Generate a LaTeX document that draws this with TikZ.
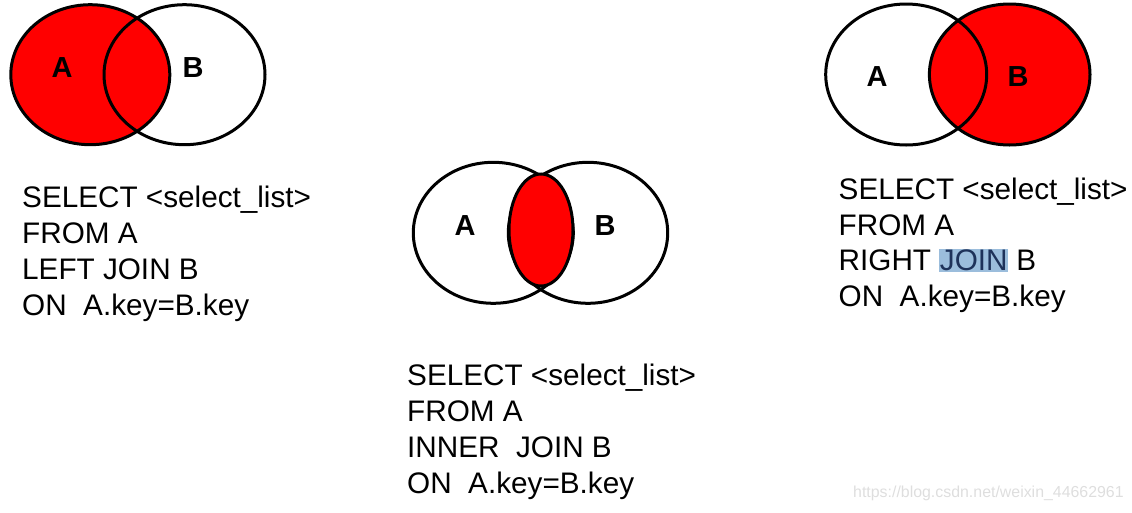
\documentclass[tikz,border=0pt]{standalone}
\usepackage{fontspec}
\setmainfont{Liberation Sans}
\definecolor{hl}{RGB}{155,189,220}
\definecolor{hltext}{RGB}{30,50,90}
\definecolor{wm}{RGB}{222,222,222}
\begin{document}
\begin{tikzpicture}[x=1pt,y=-1pt,
  venn/.style={line width=3pt, draw=black},
  code/.style={anchor=base west, inner sep=0pt, font=\fontsize{29.7}{36}\selectfont},
  lab/.style={inner sep=0pt, font=\fontsize{29}{30}\selectfont\bfseries}]
\useasboundingbox (0,0) rectangle (1132,512);
% ---- left: LEFT JOIN
\fill[red] (90.3,74.7) ellipse [x radius=79.5pt, y radius=70pt];
\draw[venn] (90.3,74.7) ellipse [x radius=79.5pt, y radius=70pt];
\draw[venn] (184.5,74.7) ellipse [x radius=80.5pt, y radius=70pt];
\node[lab] (la) at (62,67.5) {A};
\node[lab] (lb) at (193,67.5) {B};
\node[code] (l1) at (22,207) {SELECT <select\_list>};
\node[code] (l2) at (22,243) {FROM A};
\node[code] (l3) at (22,279) {LEFT JOIN B};
\node[code] (l4) at (22,315) {ON\ \ A.key=B.key};
% ---- middle: INNER JOIN
\draw[venn] (493.3,232.8) ellipse [x radius=80pt, y radius=70.5pt];
\draw[venn] (588,232.8) ellipse [x radius=79.7pt, y radius=70.5pt];
\draw[venn, fill=red] (541,230) ellipse [x radius=32pt, y radius=56pt];
\node[lab] (ma) at (465,226) {A};
\node[lab] (mb) at (605,226) {B};
\node[code] (m1) at (407,385) {SELECT <select\_list>};
\node[code] (m2) at (407,421.5) {FROM A};
\node[code] (m3) at (407,457.5) {INNER\ \ JOIN B};
\node[code] (m4) at (407,493.5) {ON\ \ A.key=B.key};
% ---- right: RIGHT JOIN
\fill[red] (1009.7,74.5) ellipse [x radius=80.3pt, y radius=70.5pt];
\draw[venn] (906.2,74.5) ellipse [x radius=80.5pt, y radius=70.5pt];
\draw[venn] (1009.7,74.5) ellipse [x radius=80.3pt, y radius=70.5pt];
\node[lab] (ra) at (877,77) {A};
\node[lab] (rb) at (1018,77) {B};
\node[code] (r1) at (838.5,199.5) {SELECT <select\_list>};
\node[code] (r2) at (838.5,235) {FROM A};
\node[code] (r3) at (838.5,270.5) {RIGHT {\setlength{\fboxsep}{0.6pt}\colorbox{hl}{\rule[-1pt]{0pt}{22pt}\textcolor{hltext}{JOIN}}} B};
\node[code] (r4) at (838.5,306) {ON\ \ A.key=B.key};
% ---- watermark
\node[anchor=base west, inner sep=0pt, text=wm, font=\fontsize{15.9}{18}\selectfont] (wmk) at (853,497) {https://blog.csdn.net/weixin\_44662961};
\end{tikzpicture}
\end{document}
